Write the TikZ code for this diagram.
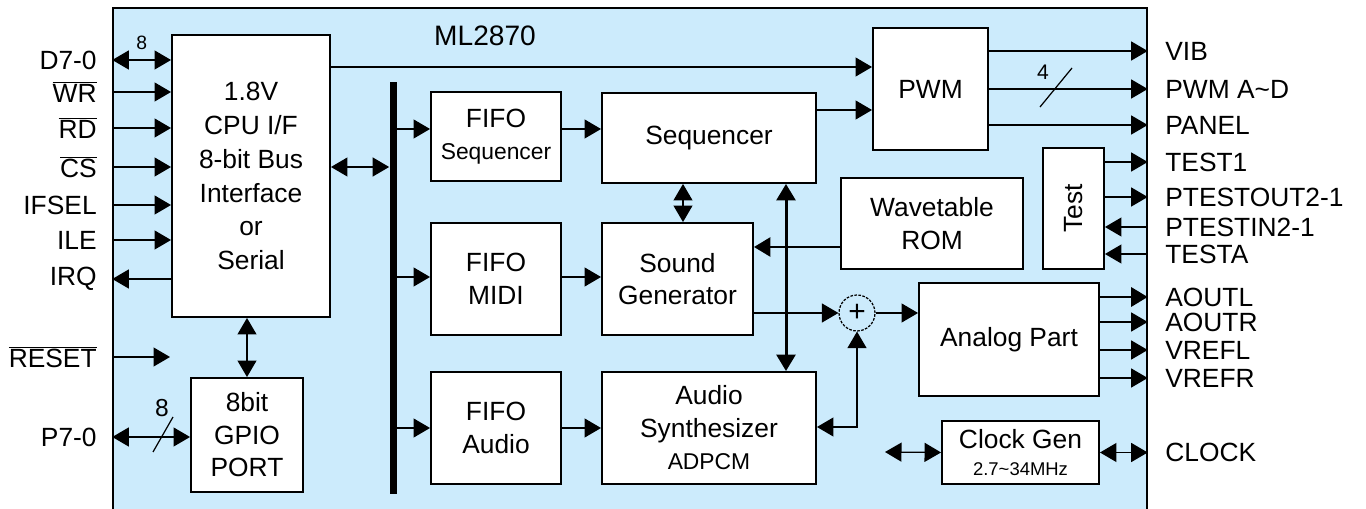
\documentclass[tikz,border=0pt]{standalone}
\usepackage{fontspec}
\setmainfont{Liberation Sans}
\usepackage{graphicx}
\usetikzlibrary{arrows.meta,positioning,calc}
\usepackage{xcolor}
\definecolor{chipBlue}{HTML}{CCEBFC}
\newcommand{\nbar}[1]{$\overline{\mbox{#1}}$}

\begin{document}
\begin{tikzpicture}[x=0.02cm, y=-0.02cm,
  chip/.style={draw, fill=chipBlue, line width=0.8pt, inner sep=0pt},
  blk/.style={draw, fill=white, line width=1.1pt, align=center, inner sep=0pt, font=\fontsize{15}{18.5}\selectfont},
  sz/.style 2 args={minimum width=#1*0.02cm, minimum height=#2*0.02cm},
  pin/.style={inner sep=0pt, font=\fontsize{15}{18}\selectfont},
  flow/.style={-{Triangle[length=3.3mm,width=3.8mm]}, line width=0.7pt},
  bflow/.style={{Triangle[length=3.3mm,width=3.8mm]}-{Triangle[length=3.3mm,width=3.8mm]}, line width=0.7pt},
  thk/.style={line width=1.7pt}]
\useasboundingbox (0,0) rectangle (1366,509);
\node[chip, sz={1034}{514}] (chip) at (630,265) {};
\node[font=\fontsize{16}{16}\selectfont] (title) at (485,36) {ML2870};

% left pins
\node[pin, anchor=east] (pD)   at (97,60)  {D7-0};
\node[pin, anchor=east] (pWR)  at (97,92)  {\nbar{WR}};
\node[pin, anchor=east] (pRD)  at (97,128) {\nbar{RD}};
\node[pin, anchor=east] (pCS)  at (97,167) {\nbar{CS}};
\node[pin, anchor=east] (pIF)  at (97,205) {IFSEL};
\node[pin, anchor=east] (pILE) at (97,240) {ILE};
\node[pin, anchor=east] (pIRQ) at (97,279) {IRQ};
\node[pin, anchor=east] (pRST) at (97,357) {\nbar{RESET}};
\node[pin, anchor=east] (pP)   at (97,437) {P7-0};

% right pins
\node[pin, anchor=west] (pVIB) at (1165,51)  {VIB};
\node[pin, anchor=west] (pPWM) at (1165,89)  {PWM A\textasciitilde D};
\node[pin, anchor=west] (pPAN) at (1165,125) {PANEL};
\node[pin, anchor=west] (pT1)  at (1165,162) {TEST1};
\node[pin, anchor=west] (pTO)  at (1165,197) {PTESTOUT2-1};
\node[pin, anchor=west] (pTI)  at (1165,227) {PTESTIN2-1};
\node[pin, anchor=west] (pTA)  at (1165,254) {TESTA};
\node[pin, anchor=west] (pAL)  at (1165,297) {AOUTL};
\node[pin, anchor=west] (pAR)  at (1165,322) {AOUTR};
\node[pin, anchor=west] (pVL)  at (1165,350) {VREFL};
\node[pin, anchor=west] (pVR)  at (1165,378) {VREFR};
\node[pin, anchor=west] (pCLK) at (1165,452) {CLOCK};

% blocks
\node[blk, sz={158}{282}, font=\fontsize{15}{19.3}\selectfont] (cpu) at (251,176) {1.8V\\CPU I/F\\8-bit Bus\\Interface\\or\\Serial};
\node[blk, sz={112}{114}] (gpio) at (247,435) {8bit\\GPIO\\PORT};
\node[fill=black, inner sep=0pt, sz={7}{412}] (bus) at (393,288) {};
\node[blk, sz={130}{89}] (fifoS) at (496,136.5) {FIFO\\{\fontsize{13}{15}\selectfont Sequencer}};
\node[blk, sz={214}{90}] (seq) at (709,138) {Sequencer};
\node[blk, sz={130}{112}] (fifoM) at (496,279) {FIFO\\MIDI};
\node[blk, sz={151}{112}] (sndgen) at (677.5,279) {Sound\\Generator};
\node[blk, sz={130}{112}] (fifoA) at (496,428) {FIFO\\Audio};
\node[blk, sz={214}{112}] (synth) at (709,428) {Audio\\Synthesizer\\{\fontsize{13}{15}\selectfont ADPCM}};
\node[blk, sz={182}{91}] (wave) at (932,223.5) {Wavetable\\ROM};
\node[blk, sz={115}{122}] (pwm) at (930.5,89) {PWM};
\node[blk, sz={61}{121}] (test) at (1073.5,208.5) {\rotatebox{90}{Test}};
\node[blk, sz={180}{113}] (analog) at (1009,339.5) {Analog Part};
\node[blk, sz={157}{63}, font=\fontsize{15}{15}\selectfont] (clk) at (1020.5,452.5) {Clock Gen\\{\fontsize{10.5}{12}\selectfont 2.7\textasciitilde 34MHz}};
\node[circle, draw, dash pattern=on 1.5pt off 0.8pt, line width=0.7pt, minimum size=36*0.02cm, inner sep=0pt, font=\fontsize{17}{17}\selectfont] (sum) at (857,313) {+};

% left side
\draw[bflow] (chip.west |- pD) -- (cpu.west |- pD) node[midway, above=2pt, font=\fontsize{11}{11}\selectfont] (w8) {8};
\draw[flow] (chip.west |- pWR) -- (cpu.west |- pWR);
\draw[flow] (chip.west |- pRD) -- (cpu.west |- pRD);
\draw[flow] (chip.west |- pCS) -- (cpu.west |- pCS);
\draw[flow] (chip.west |- pIF) -- (cpu.west |- pIF);
\draw[flow] (chip.west |- pILE) -- (cpu.west |- pILE);
\draw[flow] (cpu.west |- pIRQ) -- (chip.west |- pIRQ);
\coordinate (rstEnd) at (170,357);
\draw[flow] (chip.west |- pRST) -- (rstEnd);
\draw[bflow] (chip.west |- pP) -- (gpio.west |- pP);
\draw[line width=0.7pt] (153,452) -- (173,417);
\node[font=\fontsize{14}{14}\selectfont] (p8) at (162,408) {8};
\draw[bflow] (gpio.north) -- (gpio.north |- cpu.south);
\draw[bflow] (cpu.east |- 0,167) -- (bus.west |- 0,167);
\draw[flow] (cpu.east |- 0,67) -- (pwm.west |- 0,67);

% bus to fifos
\draw[flow] (bus.east |- 0,129) -- (fifoS.west |- 0,129);
\draw[flow] (bus.east |- 0,277) -- (fifoM.west |- 0,277);
\draw[flow] (bus.east |- 0,428) -- (fifoA.west |- 0,428);
\draw[flow] (fifoS.east |- 0,129) -- (seq.west |- 0,129);
\draw[flow] (fifoM.east |- 0,277) -- (sndgen.west |- 0,277);
\draw[flow] (fifoA.east |- 0,428) -- (synth.west |- 0,428);

% sound core
\draw[flow] (seq.east |- 0,110) -- (pwm.west |- 0,110);
\draw[bflow] (seq.south -| 683,0) -- (sndgen.north -| 683,0);
\draw[bflow, thk] (seq.south -| 786,0) -- (synth.north -| 786,0);
\draw[flow, thk] (wave.west |- 0,247) -- (sndgen.east |- 0,247);
\draw[flow] (sndgen.east |- sum.west) -- (sum.west);
\draw[bflow] (synth.east |- 0,427) -| (sum.south);
\draw[flow] (sum.east) -- (analog.west |- sum.east);

% right side
\draw[flow] (pwm.east |- pVIB) -- (chip.east |- pVIB);
\draw[flow] (pwm.east |- pPWM) -- (chip.east |- pPWM);
\draw[line width=0.7pt] (1040,107) -- (1072,68);
\node[font=\fontsize{12}{12}\selectfont] (w4) at (1043,72) {4};
\draw[flow] (pwm.east |- pPAN) -- (chip.east |- pPAN);
\draw[flow] (test.east |- pT1) -- (chip.east |- pT1);
\draw[flow] (test.east |- pTO) -- (chip.east |- pTO);
\draw[flow] (chip.east |- pTI) -- (test.east |- pTI);
\draw[flow] (chip.east |- pTA) -- (test.east |- pTA);
\draw[flow, thk] (analog.east |- pAL) -- (chip.east |- pAL);
\draw[flow] (analog.east |- pAR) -- (chip.east |- pAR);
\draw[flow] (analog.east |- pVL) -- (chip.east |- pVL);
\draw[flow] (analog.east |- pVR) -- (chip.east |- pVR);
\coordinate (clkL) at (885,452);
\draw[bflow] (clkL) -- (clk.west);
\draw[bflow] (clk.east) -- (chip.east |- clk.east);
\end{tikzpicture}
\end{document}
